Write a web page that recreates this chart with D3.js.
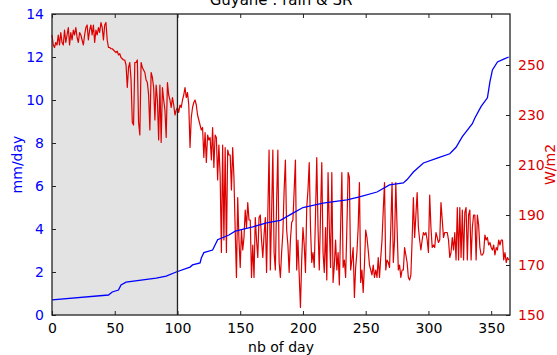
<!DOCTYPE html>
<html>
<head>
<meta charset="utf-8">
<script src="https://cdn.jsdelivr.net/npm/d3@7"></script>
<style>
  body { margin: 0; background: #fff; }
  svg { display: block; font-family: "DejaVu Sans", sans-serif; }
</style>
</head>
<body>
<script>
// rain (sorted), mm/day : knots
var rainDays = [0,45,48,53,55,59,83,91,99,110,112,118,119,121,128,132,141,146,160,171,182,192,200,216,235,245,259,269,280,283,288,296,307,317,322,327,335,337,342,347,349,351,355,360,364];
var rainVals = [0.7,0.93,1.07,1.16,1.4,1.53,1.72,1.81,2.0,2.23,2.33,2.42,2.65,2.9,3.02,3.5,3.72,3.9,4.1,4.28,4.4,4.74,5.0,5.2,5.35,5.49,5.72,6.05,6.14,6.3,6.65,7.07,7.3,7.5,7.8,8.3,8.9,9.16,9.7,10.1,10.84,11.4,11.77,11.9,12.0];

// solar radiation, W/m2, one value per day (0..364)
var srVals = [
  262,258,257,259,258,262,258,263,259,258,
  264,259,262,265,258,263,260,264,262,265,
  261,259,263,262,260,258,262,265,266,260,
  264,266,262,266,259,264,262,265,263,267,
  265,260,266,267,260,257,257,256.5,256.5,256,
  255.5,255,255.5,254,254.5,253,252.5,252,252,250,
  241,249,251,244,227,226,251,251,252,227,
  222,251,249,248,247,244,243,238,224,247,
  245,241,228,242,236,220,242,219,241,236,
  232,221,243,238,236,233,237,234,230,232,
  233,231,234,233,236,238,241,237,239,234,
  217,229,233,235,236,234,230,228,226,224,
  225,213,223,211,222,220,221,212,225,209,
  222,221,204,218,206,175,218,180,217,175,
  216,214,214,200,217,205,184,165,197,180,
  169,184,176,181,192,185,195,188,188,165,
  178,165,189,180,173,189,190,180,173,182,
  189,167,190,216,168,190,216,175,168,195,
  216,171,165,175,183,200,212,184,178,167,
  180,187,188,200,212,168,180,166,153,172,
  185,178,167,193,200,211,185,171,175,169,
  190,213,185,168,190,211,175,167,185,164,
  207,185,169,207,163,170,180,168,175,162,
  185,207,169,172,165,185,207,205,168,172,
  177,157,169,175,185,203,163,168,159,170,
  184,181,176,170,168,166,170,165,168,165,
  173,165,173,180,192,203,168,172,171,169,
  185,203,171,180,203,185,168,170,165,168,
  168,177,174,171,165,164,166,180,197,181,
  190,199,185,180,176,180,183,182,183,180,
  175,198,185,177,178,177,183,181,179,180,
  195,188,181,183,183,183,180,173,175,181,
  176,183,172,193,172,193,173,192,172,191,
  193,172,190,192,172,185,190,190,172,190,
  186,177,174,174,175,182,180,181,178,179,
  177,176,178,174,177,176,180,178,180,180,
  172,175,171,173,172
];

var xTicks = [0,50,100,150,200,250,300,350];
var leftTicks = [0,2,4,6,8,10,12,14];
var rightTicks = [150,170,190,210,230,250];
var shadeEnd = 100;

var W = 557, H = 355;
var margin = {left:52, right:47, top:14, bottom:40};
var width = W - margin.left - margin.right;
var height = H - margin.top - margin.bottom;

var blue = "#0000ff", red = "#dd0000";

var x = d3.scaleLinear().domain([0,365]).range([0,width]);
var yL = d3.scaleLinear().domain([0,14]).range([height,0]);
var yR = d3.scaleLinear().domain([150,270.4]).range([height,0]);

var svg = d3.select("body").append("svg").attr("width",W).attr("height",H);
var g = svg.append("g").attr("transform","translate("+margin.left+","+margin.top+")");

// grey zone
g.append("rect")
  .attr("x",x(0)).attr("y",0)
  .attr("width",x(shadeEnd)-x(0)).attr("height",height)
  .attr("fill","#e3e3e3");

var srLine = d3.line().x(function(d,i){return x(i);}).y(function(d){return yR(d);});
g.append("path").attr("d",srLine(srVals))
  .attr("fill","none").attr("stroke",red).attr("stroke-width",1.2)
  .attr("stroke-linejoin","round");

var rainLine = d3.line().x(function(d){return x(d[0]);}).y(function(d){return yL(d[1]);});
g.append("path").attr("d",rainLine(d3.zip(rainDays,rainVals)))
  .attr("fill","none").attr("stroke",blue).attr("stroke-width",1.3);

g.append("line")
  .attr("x1",x(shadeEnd)).attr("x2",x(shadeEnd))
  .attr("y1",0).attr("y2",height)
  .attr("stroke","#222").attr("stroke-width",1.3);

// axes, ticks pointing inward
function styleAxis(sel,col){
  sel.select(".domain").remove();
  sel.selectAll(".tick line").attr("stroke","#222");
  sel.selectAll(".tick text").attr("fill",col).style("font-size","14px").style("font-family","DejaVu Sans");
}
g.append("g").attr("transform","translate(0,"+height+")")
  .call(d3.axisBottom(x).tickValues(xTicks).tickSizeInner(-4).tickPadding(8))
  .call(styleAxis,"#000");
g.append("g")
  .call(d3.axisTop(x).tickValues(xTicks).tickSizeInner(-4).tickFormat(""))
  .call(styleAxis,"#000");
g.append("g")
  .call(d3.axisLeft(yL).tickValues(leftTicks).tickSizeInner(-4).tickPadding(8))
  .call(styleAxis,blue);
g.append("g").attr("transform","translate("+width+",0)")
  .call(d3.axisRight(yR).tickValues(rightTicks).tickSizeInner(-4).tickPadding(8))
  .call(styleAxis,red);

g.append("rect").attr("width",width).attr("height",height)
  .attr("fill","none").attr("stroke","#222").attr("stroke-width",1.3);

svg.append("text").attr("x",margin.left+width/2).attr("y",5)
  .attr("text-anchor","middle").style("font-size","15px").text("Guyane : rain & SR");
svg.append("text").attr("x",margin.left+width/2).attr("y",352)
  .attr("text-anchor","middle").style("font-size","14px").text("nb of day");
svg.append("text").attr("transform","translate(22,"+(margin.top+height/2)+") rotate(-90)")
  .attr("text-anchor","middle").attr("fill",blue).style("font-size","14px").text("mm/day");
svg.append("text").attr("transform","translate(555,"+(margin.top+height/2)+") rotate(-90)")
  .attr("text-anchor","middle").attr("fill",red).style("font-size","14px").text("W/m2");
</script>
</body>
</html>
